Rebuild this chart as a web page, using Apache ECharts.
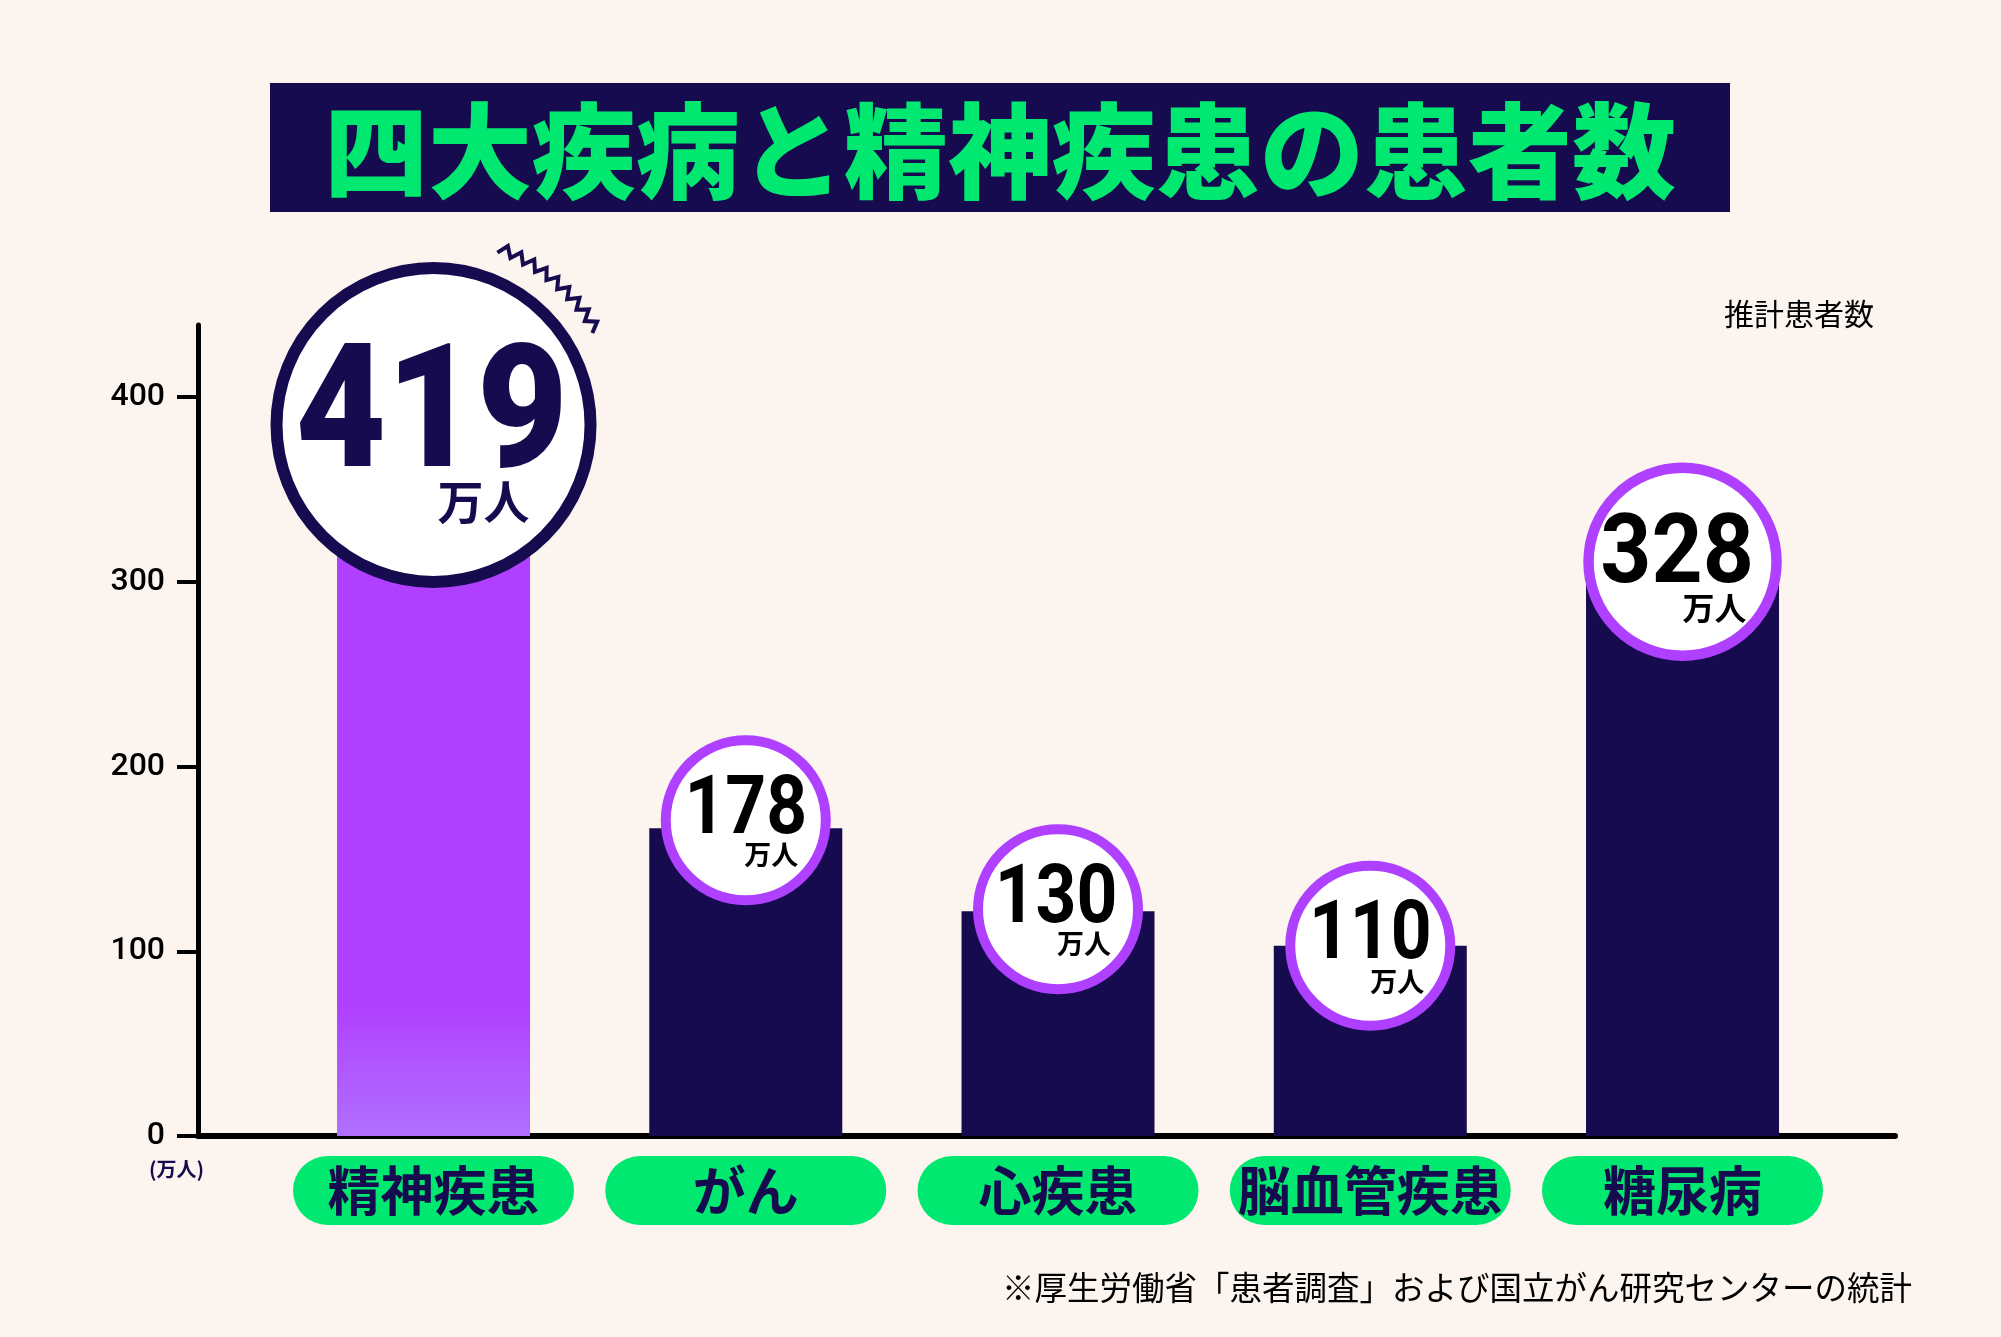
<!DOCTYPE html>
<html><head><meta charset="utf-8">
<script src="https://cdn.jsdelivr.net/npm/echarts@6/dist/echarts.min.js"></script>
<style>html,body{margin:0;padding:0;background:#FCF4EE}#c{width:2001px;height:1337px}</style>
</head><body><div id="c"></div>
<script>
// ---------- data ----------
const categories = ['精神疾患', 'がん', '心疾患', '脳血管疾患', '糖尿病'];
const patients = [419, 178, 130, 110, 328];          // 万人
const valueLabels = ['419', '178', '130', '110', '328'];
const unitLabel = '万人';
const yTicks = [0, 100, 200, 300, 400];
const titleText = '四大疾病と精神疾患の患者数';
const seriesName = '推計患者数';
const sourceNote = '※厚生労働省「患者調査」および国立がん研究センターの統計';
const axisUnit = '(万人)';

// ---------- styles ----------
const BG = '#FCF4EE', NAVY = '#170B4F', PURPLE = '#B040FF', GREEN = '#00E870';
const CJK = '"Noto Sans CJK JP", "Noto Sans", sans-serif';
const ROBOTO = 'Roboto, "Liberation Sans", sans-serif';
const circleStyle = [
  { r: 157, border: 12, ring: NAVY, dy: 13.5, nSize: 172, nWeight: 900, nScale: 0.91, nColor: NAVY, nOff: [-2, -2], uSize: 46, uColor: NAVY, uOff: [96, 77] },
  { r: 80, border: 10, ring: PURPLE, dy: -8, nSize: 82, nWeight: 'bold', nScale: 0.87, nColor: '#000', nOff: [0, -7.5], uSize: 27, uColor: '#000', uOff: [52.5, 35] },
  { r: 80, border: 10, ring: PURPLE, dy: -2, nSize: 82, nWeight: 'bold', nScale: 0.87, nColor: '#000', nOff: [-2, -7.5], uSize: 27, uColor: '#000', uOff: [53, 35] },
  { r: 80, border: 10, ring: PURPLE, dy: 0, nSize: 82, nWeight: 'bold', nScale: 0.87, nColor: '#000', nOff: [0, -8], uSize: 27, uColor: '#000', uOff: [54, 36] },
  { r: 94, border: 10.5, ring: PURPLE, dy: -7, nSize: 96, nWeight: 'bold', nScale: 0.93, nColor: '#000', nOff: [-5.5, -3.6], uSize: 32, uColor: '#000', uOff: [64, 46] }
];

const barGradient = new echarts.graphic.LinearGradient(0, 0, 0, 1, [
  { offset: 0, color: PURPLE }, { offset: 0.82, color: PURPLE }, { offset: 1, color: '#B070FF' }
]);

const chart = echarts.init(document.getElementById('c'), null, { renderer: 'canvas' });

// zigzag decoration around first circle
const zz = [];
(function () {
  const cx = 433, cy = 425, r = 189, a0 = -69.5 * Math.PI / 180, a1 = -30 * Math.PI / 180, n = 18;
  for (let i = 0; i <= n; i++) {
    const a = a0 + (a1 - a0) * i / n;
    const rr = r + (i % 2 === 0 ? -5 : 5);
    zz.push([cx + rr * Math.cos(a), cy + rr * Math.sin(a)]);
  }
})();

const GRID_TOP = 325, GRID_H = 811;

chart.setOption({
  backgroundColor: BG,
  animation: false,
  grid: [
    { left: 277.4, top: GRID_TOP, width: 1561.25, height: GRID_H, outerBoundsMode: 'none', containLabel: false },
    { left: 198, top: GRID_TOP, width: 1697, height: GRID_H, outerBoundsMode: 'none', containLabel: false }
  ],
  xAxis: [
    {
      type: 'category', gridIndex: 0, data: categories,
      axisLine: { show: false }, axisTick: { show: false }, splitLine: { show: false },
      axisLabel: {
        margin: 20, interval: 0, color: NAVY, fontFamily: CJK, fontWeight: 'bold', fontSize: 53,
        backgroundColor: GREEN, borderRadius: 35, width: 281, height: 69, lineHeight: 69, align: 'center', padding: 0
      }
    },
    {
      type: 'value', gridIndex: 1, min: 0, max: 1,
      axisLine: { show: true, lineStyle: { color: '#000', width: 6 } },
      axisTick: { show: false }, axisLabel: { show: false }, splitLine: { show: false }
    }
  ],
  yAxis: [
    { type: 'value', gridIndex: 0, min: 0, max: 469, show: false, splitLine: { show: false } },
    {
      type: 'value', gridIndex: 1, min: 0, max: 439, interval: 100,
      axisLine: { show: true, lineStyle: { color: '#000', width: 5 } },
      axisTick: { show: true, length: 21, lineStyle: { color: '#000', width: 4 }, customValues: yTicks },
      axisLabel: { margin: 33, color: '#000', fontFamily: ROBOTO, fontWeight: 500, fontSize: 32, customValues: yTicks },
      splitLine: { show: false }
    }
  ],
  series: [
    {
      name: seriesName, type: 'bar', xAxisIndex: 0, yAxisIndex: 0, barWidth: 193, z: 2,
      data: patients.map((v, i) => ({ value: v, itemStyle: { color: i === 0 ? barGradient : NAVY } }))
    },
    {
      name: seriesName + '-badge', type: 'custom', xAxisIndex: 0, yAxisIndex: 0, z: 5, silent: true,
      data: patients.map((v, i) => [i, v]),
      encode: { x: 0, y: 1 },
      renderItem: function (params, api) {
        const i = params.dataIndex;
        const s = circleStyle[i];
        const p = api.coord([api.value(0), api.value(1)]);
        const cx = p[0], cy = p[1] + s.dy;
        return {
          type: 'group',
          children: [
            { type: 'circle', shape: { cx: cx, cy: cy, r: s.r }, style: { fill: '#fff', stroke: s.ring, lineWidth: s.border } },
            {
              type: 'text', x: cx + s.nOff[0], y: cy + s.nOff[1], scaleX: s.nScale, scaleY: 1,
              style: { text: valueLabels[i], fill: s.nColor, fontFamily: ROBOTO, fontWeight: s.nWeight, fontSize: s.nSize, align: 'center', verticalAlign: 'middle' }
            },
            {
              type: 'text', x: cx + s.uOff[0], y: cy + s.uOff[1],
              style: { text: unitLabel, fill: s.uColor, fontFamily: CJK, fontWeight: 'bold', fontSize: s.uSize, align: 'right', verticalAlign: 'middle' }
            }
          ]
        };
      }
    }
  ],
  graphic: [
    { type: 'rect', z: 10, shape: { x: 270, y: 83, width: 1460, height: 129 }, style: { fill: NAVY } },
    { type: 'text', z: 11, x: 1000, y: 151, style: { text: titleText, fill: GREEN, fontFamily: CJK, fontWeight: 900, fontSize: 104, align: 'center', verticalAlign: 'middle' } },
    { type: 'polyline', z: 10, shape: { points: zz }, style: { stroke: NAVY, lineWidth: 4, fill: null, lineJoin: 'miter' } },
    { type: 'text', z: 10, x: 1874, y: 314, style: { text: seriesName, fill: '#000', fontFamily: CJK, fontSize: 30, align: 'right', verticalAlign: 'middle' } },
    { type: 'text', z: 10, x: 1912, y: 1288, style: { text: sourceNote, fill: '#000', fontFamily: CJK, fontSize: 32.5, align: 'right', verticalAlign: 'middle' } },
    { type: 'text', z: 10, x: 176.5, y: 1169, style: { text: axisUnit, fill: NAVY, fontFamily: CJK, fontWeight: 'bold', fontSize: 20, align: 'center', verticalAlign: 'middle' } }
  ]
});
</script></body></html>
